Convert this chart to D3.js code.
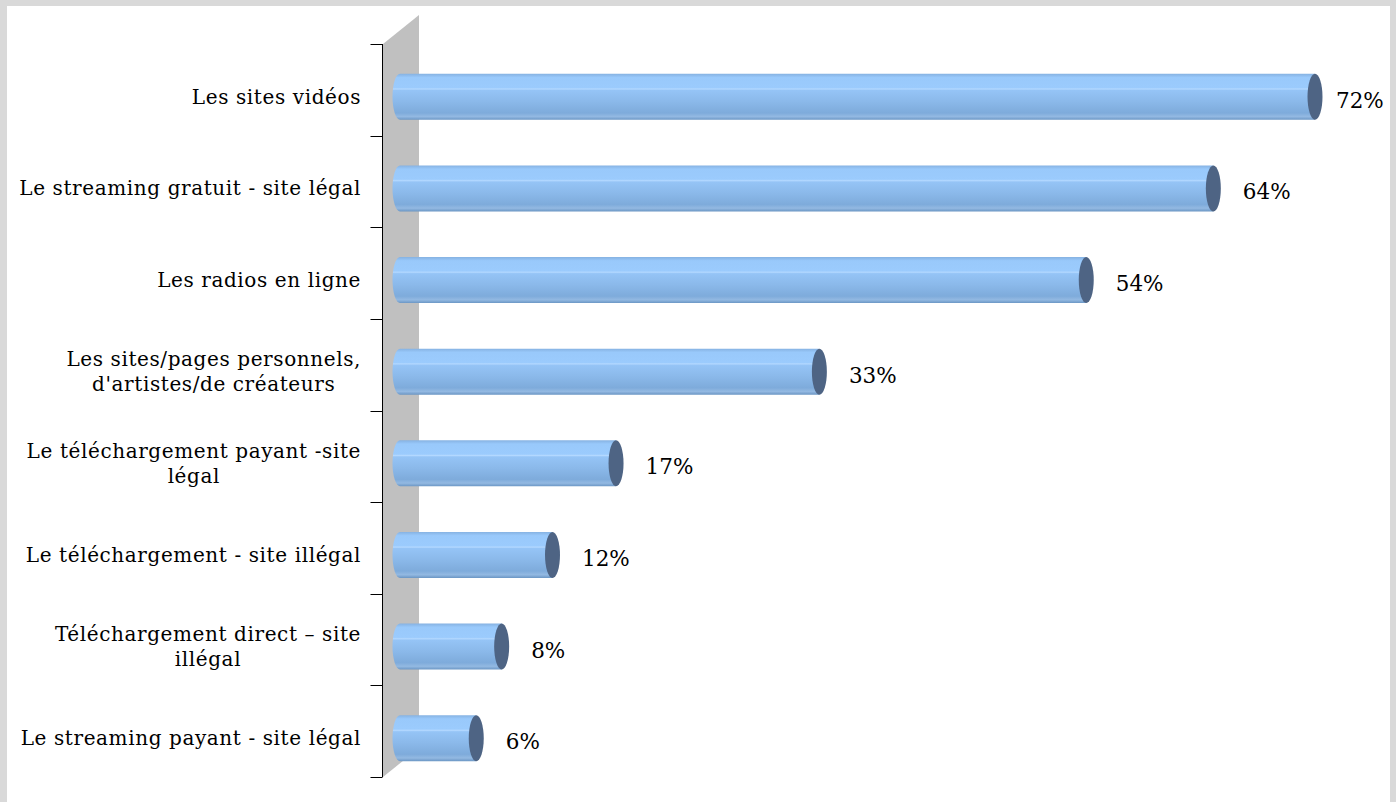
<!DOCTYPE html>
<html><head><meta charset="utf-8">
<script src="https://cdn.jsdelivr.net/npm/d3@7/dist/d3.min.js"></script>
<style>html,body{margin:0;padding:0;background:#d9d9d9;overflow:hidden}</style>
</head><body>
<svg id="chart" width="1396" height="802"></svg>
<script>
const categories = [
  ["Les sites vidéos"],
  ["Le streaming gratuit - site légal"],
  ["Les radios en ligne"],
  ["Les sites/pages personnels,", "d'artistes/de créateurs"],
  ["Le téléchargement payant -site", "légal"],
  ["Le téléchargement - site illégal"],
  ["Téléchargement direct – site", "illégal"],
  ["Le streaming payant - site légal"]
];
const values = [72, 64, 54, 33, 17, 12, 8, 6];
const valueLabels = ["72%", "64%", "54%", "33%", "17%", "12%", "8%", "6%"];

const svg = d3.select("#chart");
const W = 1396, H = 802;
const font = "'DejaVu Serif', serif";

svg.append("rect").attr("x", 0).attr("y", 0).attr("width", W).attr("height", H).attr("fill", "#d9d9d9");
svg.append("rect").attr("x", 7).attr("y", 6).attr("width", 1383).attr("height", H - 6).attr("fill", "#ffffff");

const ids = categories.map((c, i) => "c" + i);
const y = d3.scaleBand().domain(ids).range([44, 777]).padding(0);
const x = d3.scaleLinear().domain([0, 72]).range([400, 1315]);

// 3D side wall
const depthX = 36, depthY = 29;
svg.append("path")
  .attr("d", `M383,44 L${383 + depthX},${44 - depthY} L${383 + depthX},${777 - depthY} L383,777 Z`)
  .attr("fill", "#c0c0c0");

// gradient for cylinders
const defs = svg.append("defs");
const g = defs.append("linearGradient").attr("id", "cyl").attr("x1", 0).attr("y1", 0).attr("x2", 0).attr("y2", 1);
[[0, "#86b2e2"], [0.08, "#99c9fb"], [0.3, "#9bcbfd"], [0.33, "#b3d8ff"], [0.36, "#95c4f6"], [0.6, "#8bb9ea"], [0.85, "#7eabdb"], [0.93, "#93b9e2"], [1, "#6b96c4"]]
  .forEach(([o, c]) => g.append("stop").attr("offset", o).attr("stop-color", c));

const barH = 46, rx = 7.5;
const cy = id => y(id) + y.bandwidth() / 2 + 7;

const bars = svg.append("g");
ids.forEach((id, i) => {
  const c = cy(id), x0 = x(0), x1 = x(values[i]);
  const top = c - barH / 2, bot = c + barH / 2;
  bars.append("path")
    .attr("d", `M${x1},${top} L${x0},${top} A${rx},${barH / 2} 0 0 0 ${x0},${bot} L${x1},${bot} Z`)
    .attr("fill", "url(#cyl)");
  bars.append("ellipse")
    .attr("cx", x1).attr("cy", c).attr("rx", rx).attr("ry", barH / 2)
    .attr("fill", "#4e6484");
  svg.append("text")
    .attr("x", Math.min(x1 + rx + 22, 1336)).attr("y", c + 11)
    .attr("font-family", font).attr("font-size", 21.5).attr("fill", "#000")
    .text(valueLabels[i]);
});

// axis
const ax = svg.append("g").attr("transform", "translate(382.5,0)");
ax.append("line").attr("x1", 0).attr("x2", 0).attr("y1", 44).attr("y2", 777).attr("stroke", "#000");
const bounds = ids.map(id => y(id)).concat([y.range()[1]]);
ax.selectAll("line.tk").data(bounds).join("line").attr("class", "tk")
  .attr("x1", -12).attr("x2", 0).attr("y1", d => Math.round(d) + 0.5).attr("y2", d => Math.round(d) + 0.5)
  .attr("stroke", "#000");

// category labels
const lh = 25, rightEdge = 361;
ids.forEach((id, i) => {
  const lines = categories[i];
  const c = cy(id);
  const grp = svg.append("g");
  const texts = lines.map((l, j) => grp.append("text")
    .attr("font-family", font).attr("font-size", 20).attr("letter-spacing", 0.6).attr("fill", "#000")
    .attr("text-anchor", "middle")
    .attr("y", c + 7 + (j - (lines.length - 1) / 2) * lh)
    .text(l));
  const maxW = d3.max(texts, t => t.node().getComputedTextLength());
  texts.forEach(t => t.attr("x", rightEdge - maxW / 2));
});
</script>
</body></html>
